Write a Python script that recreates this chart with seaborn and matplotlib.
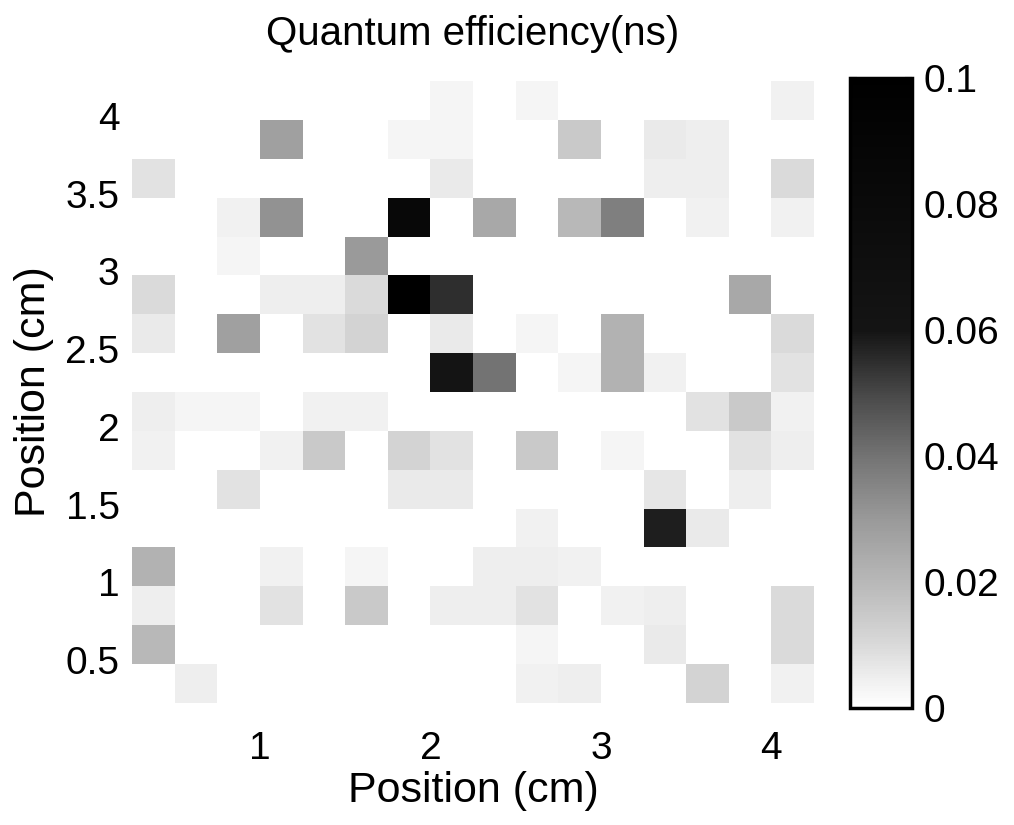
import numpy as np
import pandas as pd
import matplotlib
matplotlib.use("Agg")
import matplotlib.pyplot as plt
import seaborn as sns
from matplotlib.colors import LinearSegmentedColormap

# ---------------- data ----------------
title = "Quantum efficiency(ns)"
x_label = "Position (cm)"
y_label = "Position (cm)"

# cell centres (cm)
x_positions = [0.375, 0.625, 0.875, 1.125, 1.375, 1.625, 1.875, 2.125,
               2.375, 2.625, 2.875, 3.125, 3.375, 3.625, 3.875, 4.125]
y_positions = [4.125, 3.875, 3.625, 3.375, 3.125, 2.875, 2.625, 2.375,
               2.125, 1.875, 1.625, 1.375, 1.125, 0.875, 0.625, 0.375]

# quantum efficiency (ns); rows from top (y=4.125) to bottom (y=0.375)
efficiency = [
    [0, 0, 0, 0, 0, 0, 0, 0.003, 0, 0.003, 0, 0, 0, 0, 0, 0.004],
    [0, 0, 0, 0.028, 0, 0, 0.003, 0.003, 0, 0, 0.015, 0, 0.006, 0.005, 0, 0],
    [0.008, 0, 0, 0, 0, 0, 0, 0.006, 0, 0, 0, 0, 0.005, 0.005, 0, 0.010],
    [0, 0, 0.004, 0.032, 0, 0, 0.085, 0, 0.025, 0, 0.020, 0.037, 0, 0.004, 0, 0.004],
    [0, 0, 0.003, 0, 0, 0.030, 0, 0, 0, 0, 0, 0, 0, 0, 0, 0],
    [0.010, 0, 0, 0.005, 0.005, 0.010, 0.100, 0.055, 0, 0, 0, 0, 0, 0, 0.025, 0],
    [0.006, 0, 0.028, 0, 0.008, 0.012, 0, 0.006, 0, 0.003, 0, 0.022, 0, 0, 0, 0.010],
    [0, 0, 0, 0, 0, 0, 0, 0.060, 0.040, 0, 0.003, 0.022, 0.004, 0, 0, 0.008],
    [0.005, 0.003, 0.003, 0, 0.004, 0.004, 0, 0, 0, 0, 0, 0, 0, 0.008, 0.015, 0.004],
    [0.004, 0, 0, 0.004, 0.015, 0, 0.012, 0.008, 0, 0.015, 0, 0.003, 0, 0, 0.008, 0.005],
    [0, 0, 0.008, 0, 0, 0, 0.006, 0.006, 0, 0, 0, 0, 0.007, 0, 0.005, 0],
    [0, 0, 0, 0, 0, 0, 0, 0, 0, 0.004, 0, 0, 0.058, 0.006, 0, 0],
    [0.022, 0, 0, 0.004, 0, 0.003, 0, 0, 0.005, 0.005, 0.004, 0, 0, 0, 0, 0],
    [0.005, 0, 0, 0.008, 0, 0.015, 0, 0.005, 0.005, 0.008, 0, 0.004, 0.005, 0, 0, 0.010],
    [0.020, 0, 0, 0, 0, 0, 0, 0, 0, 0.003, 0, 0, 0.006, 0, 0, 0.010],
    [0, 0.005, 0, 0, 0, 0, 0, 0, 0, 0.004, 0.005, 0, 0, 0.012, 0, 0.004],
]

x_ticks = [1, 2, 3, 4]
x_tick_labels = ["1", "2", "3", "4"]
y_ticks = [4, 3.5, 3, 2.5, 2, 1.5, 1, 0.5]
y_tick_labels = ["4", "3.5", "3", "2.5", "2", "1.5", "1", "0.5"]
cbar_ticks = [0, 0.02, 0.04, 0.06, 0.08, 0.1]
cbar_tick_labels = ["0", "0.02", "0.04", "0.06", "0.08", "0.1"]
v_min, v_max = 0.0, 0.1

# ---------------- style ----------------
sns.set_theme(style="white")
plt.rcParams['font.family'] = ['Liberation Sans', 'DejaVu Sans']
plt.rcParams['text.color'] = 'black'
plt.rcParams['axes.labelcolor'] = 'black'
plt.rcParams['xtick.color'] = 'black'
plt.rcParams['ytick.color'] = 'black'

# grey scale resembling the scanned colour bar (saturates to black above ~0.06)
cmap = LinearSegmentedColormap.from_list(
    "scan_grey",
    [(0.0, (1, 1, 1)), (0.05, (0.93, 0.93, 0.93)), (0.1, (0.85, 0.85, 0.85)),
     (0.2, (0.72, 0.72, 0.72)), (0.3, (0.60, 0.60, 0.60)), (0.4, (0.45, 0.45, 0.45)),
     (0.5, (0.28, 0.28, 0.28)), (0.6, (0.08, 0.08, 0.08)), (1.0, (0, 0, 0))])

fig = plt.figure(figsize=(10.14, 8.25), dpi=100)
ax = fig.add_axes([0.1302, 0.1479, 0.6726, 0.7539])
cax = fig.add_axes([0.8383, 0.1418, 0.0611, 0.7636])

df = pd.DataFrame(efficiency, index=y_positions, columns=x_positions)
sns.heatmap(df, ax=ax, cbar_ax=cax, cmap=cmap, vmin=v_min, vmax=v_max,
            cbar_kws={"ticks": cbar_ticks})

# map cm values onto heatmap cell coordinates
dx = x_positions[1] - x_positions[0]
dy = y_positions[0] - y_positions[1]
xt = [(t - x_positions[0]) / dx + 0.5 for t in x_ticks]
yt = [(y_positions[0] - t) / dy + 0.5 for t in y_ticks]
ax.set_xticks(xt)
ax.set_xticklabels(x_tick_labels, rotation=0)
ax.set_yticks(yt)
ax.set_yticklabels(y_tick_labels, rotation=0)
ax.tick_params(axis="x", length=0, pad=20, labelsize=28, labelcolor="black")
ax.tick_params(axis="y", length=0, pad=9, labelsize=28, labelcolor="black")

ax.set_xlabel(x_label, fontsize=31, labelpad=3, color="black")
ax.set_ylabel(y_label, fontsize=31, labelpad=8, color="black")
ax.set_title(title, fontsize=29, pad=26, color="black")

cbar = ax.collections[0].colorbar
cbar.set_ticks(cbar_ticks)
cbar.set_ticklabels(cbar_tick_labels)
cbar.outline.set_visible(True)
cbar.outline.set_edgecolor("black")
cbar.outline.set_linewidth(2.5)
cax.tick_params(axis="y", direction="in", length=5, width=1.5, left=True,
                right=True, labelsize=28, pad=8, colors="black")

fig.savefig("out.png", dpi=100, facecolor="white")
